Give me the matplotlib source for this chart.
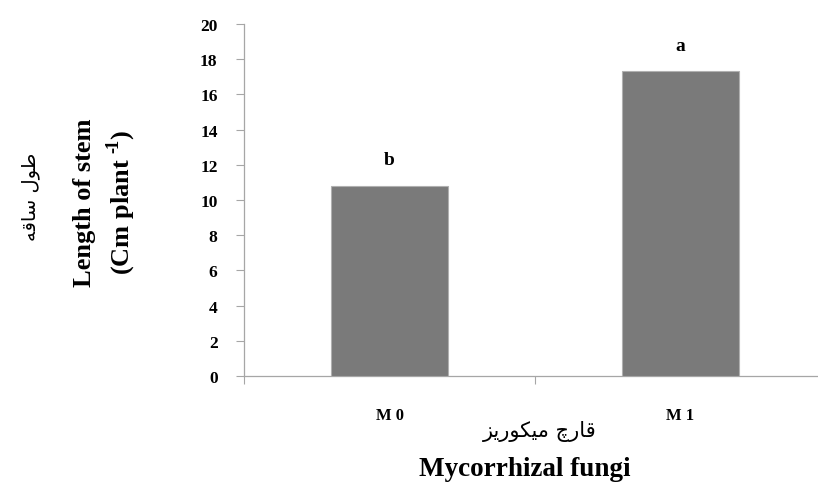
import matplotlib
matplotlib.use("Agg")
import matplotlib.pyplot as plt
import numpy as np

# data
groups = ["M 0", "M 1"]
stem_length = [10.8, 17.3]
letters = ["b", "a"]
y_ticks = [0, 2, 4, 6, 8, 10, 12, 14, 16, 18, 20]

# persian labels, written in presentation forms in visual order (matplotlib has no shaping)
fa_ylabel = "\uFEEA\uFED7\uFE8E\uFEB3 \uFEDD\uFEEE\uFEC3"  # طول ساقه
fa_xlabel = "\uFEB0\uFBFE\uFEAD\uFEEE\uFB91\uFBFF\uFEE3 \uFB7A\uFEAD\uFE8E\uFED7"  # قارچ میکوریز

serif = "Liberation Serif"
spine_col = "#a6a6a6"

plt.rcParams["mathtext.fontset"] = "custom"
plt.rcParams["mathtext.rm"] = "Liberation Serif:bold"
plt.rcParams["mathtext.bf"] = "Liberation Serif:bold"
plt.rcParams["axes.unicode_minus"] = False

fig = plt.figure(figsize=(8.18, 4.85), dpi=100)
ax = fig.add_axes([0.2983, 0.2227, 0.7115, 0.7258])

x = np.arange(len(groups))
ax.bar(x, stem_length, width=0.4, color="#7a7a7a", edgecolor="#b0b0b0", linewidth=0.8, zorder=3)
for xi, v, lt in zip(x, stem_length, letters):
    ax.text(xi, v + 1.0, lt, ha="center", va="bottom", fontsize=14,
            fontweight="bold", family=serif)

ax.set_ylim(0, 20)
ax.set_xlim(-0.5, 1.5)
ax.set_yticks(y_ticks)
ax.set_yticklabels([str(t) for t in y_ticks], fontsize=12.5, fontweight="bold", family=serif)
ax.tick_params(axis="y", direction="out", length=6, width=0.8, color=spine_col, pad=13)

# category boundaries as major ticks, names as minor ticks
ax.set_xticks([-0.5, 0.5, 1.5])
ax.set_xticklabels(["", "", ""])
ax.tick_params(axis="x", which="major", direction="out", length=6, width=0.8, color=spine_col)
ax.set_xticks(x, minor=True)
ax.set_xticklabels(groups, minor=True, fontsize=12, fontweight="bold", family=serif)
ax.tick_params(axis="x", which="minor", length=0, pad=22)

for side in ["top", "right"]:
    ax.spines[side].set_visible(False)
for side in ["left", "bottom"]:
    ax.spines[side].set_color(spine_col)
    ax.spines[side].set_linewidth(0.9)

# y labels
fig.text(85 / 818, 1 - 203 / 485, "Length of stem", rotation=90, ha="center", va="center",
         fontsize=19, fontweight="bold", family=serif)
fig.text(121 / 818, 1 - 203 / 485, "(Cm plant $^{\u2010\\!1}$)", rotation=90, ha="center",
         va="center", fontsize=19, fontweight="bold", family=serif)
fig.text(31 / 818, 1 - 197 / 485, fa_ylabel, rotation=90, ha="center", va="center",
         fontsize=14, family="DejaVu Sans")

# x labels
fig.text(540 / 818, 1 - 432 / 485, fa_xlabel, ha="center", va="center",
         fontsize=15, family="DejaVu Sans")
fig.text(525 / 818, 1 - 470 / 485, "Mycorrhizal fungi", ha="center", va="center",
         fontsize=19.5, fontweight="bold", family=serif)

fig.savefig("out.png", dpi=100)
